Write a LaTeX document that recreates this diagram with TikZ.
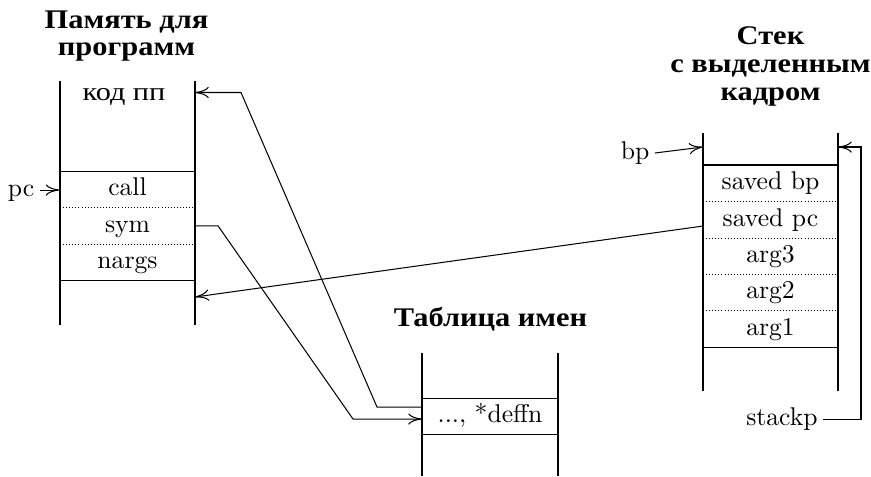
\documentclass[tikz,border=0pt]{standalone}
\usepackage{fontspec}
\newfontfamily\cyr[FakeStretch=1.18]{Liberation Serif}
\newfontfamily\cyrbf[FakeStretch=1.13]{Liberation Serif Bold}
\usetikzlibrary{arrows.meta}
\tikzset{
  lbl/.style={inner sep=2pt, text height=6.9pt, text depth=1.9pt},
  cell/.style={inner sep=0pt, minimum width=52.65pt, minimum height=14pt,
               text height=6.9pt, text depth=1.9pt},
  ttl/.style={anchor=base, inner sep=0pt, font=\cyrbf\fontsize{10.5}{12}\selectfont},
  sep/.style={dash pattern=on 0.4pt off 0.8pt},
  arr/.style={-{To[length=5.4pt,width=4.4pt]}},
}
\begin{document}
\begin{tikzpicture}[x=0.39pt,y=-0.39pt]
\useasboundingbox (0,0) rectangle (871,476);
% titles
\node[ttl] (t1a) at (126.5,28.3) {Память для};
\node[ttl] (t1b) at (126.5,55) {программ};
\node[ttl] (t2a) at (770.5,44) {Стек};
\node[ttl] (t2b) at (770.5,72.3) {с выделенным};
\node[ttl] (t2c) at (770.5,100) {кадром};
\node[ttl] (t3) at (490.5,326) {Таблица имен};
% program memory
\draw (60,81) -- (60,325) (195,81) -- (195,325);
\draw (60,171.5) -- (195,171.5) (60,280) -- (195,280);
\draw[sep] (60,207.5) -- (195,207.5) (60,244) -- (195,244);
\node[cell, font=\cyr] (kod) at (124,94) {код пп};
\node[cell] (call) at (127.5,189.5) {call};
\node[cell] (sym) at (127.5,225.8) {sym};
\node[cell] (nargs) at (127.5,262) {nargs};
% name table
\draw (422,353) -- (422,476) (558,353) -- (558,476);
\draw (422,398) -- (558,398) (422,434) -- (558,434);
\node[cell] (deffn) at (490,416) {..., *deffn};
% stack
\draw (703,133) -- (703,391) (838,133) -- (838,391);
\draw (703,165) -- (838,165) (703,347) -- (838,347);
\draw[sep] (703,201.5) -- (838,201.5) (703,238) -- (838,238)
           (703,274.3) -- (838,274.3) (703,310.5) -- (838,310.5);
\node[cell] (savedbp) at (770.5,183.3) {saved bp};
\node[cell] (savedpc) at (770.5,219.8) {saved pc};
\node[cell] (arg3) at (770.5,256.1) {arg3};
\node[cell] (arg2) at (770.5,292.4) {arg2};
\node[cell] (arg1) at (770.5,328.8) {arg1};
% labels
\node[lbl] (pc) at (21,190) {pc};
\node[lbl] (bp) at (635,153) {bp};
\node[lbl] (stackp) at (782,419) {stackp};
% anchor points
\coordinate (kodIn) at (195,92.5);
\coordinate (deffnOut) at (422,407);
\coordinate (deffnIn) at (422,419);
\coordinate (retIn) at (195,297);
\coordinate (spcOut) at (703,226);
\coordinate (bpIn) at (703,147);
\coordinate (topIn) at (838,147);
% connectors
\draw[arr] (pc.east) -- (pc.east -| call.west);
\draw[arr] (bp.east) -- (bpIn);
\draw[arr] (deffnOut) -- (377,407) -- (241,92.5) -- (kodIn);
\draw[arr] (sym.east) -- (218,225.8) -- (353,419) -- (deffnIn);
\draw[arr] (spcOut) -- (retIn);
\draw[arr] (stackp.east) -- (861,419) -- (861,147) -- (topIn);
\end{tikzpicture}
\end{document}
